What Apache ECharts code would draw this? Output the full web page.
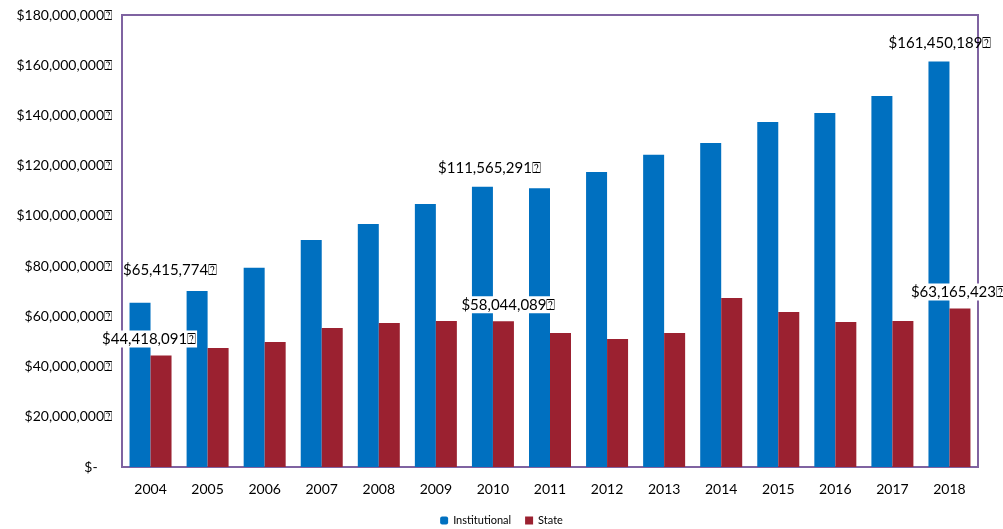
<!DOCTYPE html>
<html>
<head>
<meta charset="utf-8">
<script src="https://cdn.jsdelivr.net/npm/echarts@6/dist/echarts.min.js"></script>
<style>
html,body{margin:0;padding:0;background:#fff;}
#chart{width:1003px;height:529px;}
</style>
</head>
<body>
<div id="chart"></div>
<script>
var years = ['2004','2005','2006','2007','2008','2009','2010','2011','2012','2013','2014','2015','2016','2017','2018'];
var institutional = [65415774,70100000,79300000,90400000,96800000,104700000,111565291,111000000,117500000,124300000,129000000,137400000,141000000,147700000,161450189];
var state = [44418091,47400000,49800000,55400000,57300000,58100000,58044089,53400000,51000000,53400000,67300000,61700000,57700000,58100000,63165423];
var yTicks = [0,20000000,40000000,60000000,80000000,100000000,120000000,140000000,160000000,180000000];
var box = '\u2370';
var FONT = 'Lato, "Noto Sans", sans-serif';

function money(v){ return '$' + v.toLocaleString('en-US') + box; }

var instLabels = {0:[30,-19], 6:[7,-5], 14:[1,-5]};
var stateLabels = {0:[-12,-3], 6:[5,-3], 14:[-2,-3]};

function build(values, labels, bg){
  return values.map(function(v,i){
    var item = {value:v};
    if (labels[i]) {
      item.label = {show:true, position:'top', offset:labels[i], formatter:function(p){return money(p.value);},
        color:'#000', fontSize:15, fontFamily:FONT, backgroundColor:bg ? '#fff' : 'transparent', padding:[1,1]};
    }
    return item;
  });
}

var chart = echarts.init(document.getElementById('chart'), null, {renderer:'canvas'});
chart.setOption({
  animation:false,
  backgroundColor:'#fff',
  grid:{left:122,right:25,top:15,bottom:62,show:true,borderColor:'#7F63A1',borderWidth:2,backgroundColor:'transparent'},
  legend:{bottom:-2,left:'center',itemWidth:8,itemHeight:8,itemGap:14,
    textStyle:{fontSize:11,fontFamily:FONT,color:'#000'},
    data:[{name:'Institutional',icon:'roundRect'},{name:'State',icon:'rect'}]},
  xAxis:{type:'category',data:years,
    axisLine:{show:true,lineStyle:{color:'#7F63A1',width:2}},
    axisTick:{show:false},
    axisLabel:{color:'#000',fontSize:14,fontFamily:FONT,margin:15}},
  yAxis:{type:'value',min:0,max:180000000,interval:20000000,
    axisLine:{show:true,lineStyle:{color:'#7F63A1',width:2}},
    axisTick:{show:false},
    splitLine:{show:false},
    axisLabel:{color:'#000',fontSize:14,fontFamily:FONT,margin:10,
      formatter:function(v){ return v===0 ? '$-    ' : money(v); }}},
  series:[
    {name:'Institutional',type:'bar',data:build(institutional,instLabels,false),barWidth:21,barGap:'0%',
      itemStyle:{color:'#0070C0'}},
    {name:'State',type:'bar',data:build(state,stateLabels,true),barWidth:21,barGap:'0%',
      itemStyle:{color:'#9B2130'}}
  ]
});
</script>
</body>
</html>
